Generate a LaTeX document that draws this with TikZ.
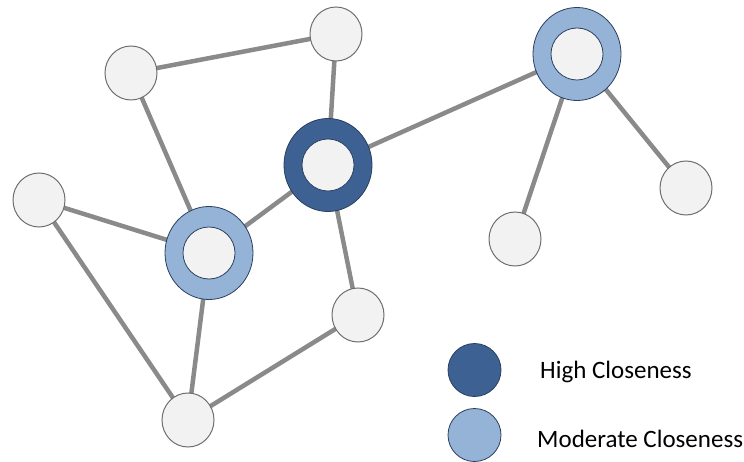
\documentclass[tikz,border=0pt]{standalone}
\usepackage{fontspec}
\setmainfont{Carlito}
\usetikzlibrary{shapes.geometric}
\definecolor{edgegray}{HTML}{8A8A8A}
\definecolor{nodefill}{HTML}{F2F2F2}
\definecolor{nodeline}{HTML}{6E6E6E}
\definecolor{highblue}{HTML}{3E6194}
\definecolor{modblue}{HTML}{95B3D7}
\definecolor{ringline}{HTML}{2A3F5F}
\tikzset{
  plain/.style={ellipse, draw=nodeline, line width=1pt, fill=nodefill,
    minimum width=52pt, minimum height=54pt, inner sep=0pt},
  ring/.style={ellipse, draw=ringline, line width=0.8pt,
    minimum width=88pt, minimum height=93pt, inner sep=0pt},
  hub/.style={circle, draw=ringline, line width=0.8pt, fill=nodefill,
    minimum size=52pt, inner sep=0pt},
  link/.style={draw=edgegray, line width=4.5pt},
  keydot/.style={circle, draw=ringline, line width=0.8pt,
    minimum size=53pt, inner sep=0pt},
  keytext/.style={anchor=base west, font=\fontsize{25}{30}\selectfont, inner sep=0pt}
}
\begin{document}
\begin{tikzpicture}[x=1pt,y=-1pt]
\useasboundingbox (0,0) rectangle (744,462);
% node centres
\coordinate (pA) at (131,73);
\coordinate (pB) at (336,34);
\coordinate (pC) at (328,165);
\coordinate (pD) at (577,54);
\coordinate (pE) at (39,200);
\coordinate (pF) at (209,253);
\coordinate (pG) at (515,239);
\coordinate (pH) at (686,188);
\coordinate (pI) at (358,315);
\coordinate (pJ) at (188,420);
% connectors
\draw[link] (pA) -- (pB);
\draw[link] (pA) -- (pF);
\draw[link] (pB) -- (pC);
\draw[link] (pC) -- (pF);
\draw[link] (pC) -- (pD);
\draw[link] (pC) -- (pI);
\draw[link] (pE) -- (pF);
\draw[link] (pE) -- (pJ);
\draw[link] (pF) -- (pJ);
\draw[link] (pI) -- (pJ);
\draw[link] (pD) -- (pG);
\draw[link] (pD) -- (pH);
% plain nodes
\node[plain] (A) at (pA) {};
\node[plain] (B) at (pB) {};
\node[plain] (E) at (pE) {};
\node[plain] (G) at (pG) {};
\node[plain] (H) at (pH) {};
\node[plain] (I) at (pI) {};
\node[plain] (J) at (pJ) {};
% ringed nodes
\node[ring, fill=highblue] (C) at (pC) {};
\node[hub] (Cin) at (pC) {};
\node[ring, fill=modblue] (D) at (pD) {};
\node[hub] (Din) at (pD) {};
\node[ring, fill=modblue] (F) at (pF) {};
\node[hub] (Fin) at (pF) {};
% legend
\node[keydot, fill=highblue] (kH) at (474.5,370) {};
\node[keydot, fill=modblue] (kM) at (474.5,435) {};
\node[keytext] (tH) at (540,378) {High Closeness};
\node[keytext] (tM) at (537,447) {Moderate Closeness};
\end{tikzpicture}
\end{document}
